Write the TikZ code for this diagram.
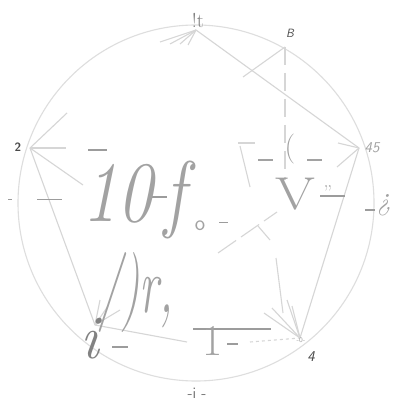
\documentclass[tikz,border=0pt]{standalone}
\usetikzlibrary{arrows.meta}
\definecolor{lin}{HTML}{D6D6D6}
\definecolor{txt}{HTML}{A2A2A2}
\definecolor{lab}{HTML}{4A4A4A}
\definecolor{dsh}{HTML}{9C9C9C}
\tikzset{
  ln/.style={draw=lin, line width=1.1pt},
  dk/.style={draw=dsh, line width=2pt},
  big/.style={text=txt, inner sep=0pt},
  lbl/.style={text=lab, inner sep=0pt, font=\sffamily},
}
\begin{document}
\begin{tikzpicture}[x=1pt,y=-1pt]
\useasboundingbox (0,0) rectangle (395,411);
\fill[white] (0,0) rectangle (395,411);
% vertices
\coordinate (vt) at (196,30);
\coordinate (vb) at (285,47);
\coordinate (v45) at (359,148);
\coordinate (v4) at (300,338);
\coordinate (vi) at (95,325);
\coordinate (v2) at (30,148);
\coordinate (c) at (196,203);
% circle
\draw[ln, draw=lin!80] (c) circle (178);
% edges
\draw[ln] (vt) -- (v45);
\draw[ln] (vb) -- (243,77);
\draw[ln, dashed, dash pattern=on 18pt off 8pt] (vb) -- (285,180);
\draw[ln] (v45) -- (v4);
\draw[ln] (v45) -- (337,167);
\draw[ln] (v45) -- (338,143);
\draw[ln] (v2) -- (vi);
\draw[ln] (v2) -- (83,185);
\draw[ln] (v2) -- (66,148);
\draw[ln] (v2) -- (67,113);
\draw[ln] (vi) -- (187,342);
\draw[ln] (276,258) -- (283,313);
\draw[ln, dashed, dash pattern=on 22pt off 6pt] (218,253) -- (277,212);
\draw[ln] (258,226) -- (270,240);
\draw[ln] (238,143) -- (255,143);
\draw[ln] (240,146) -- (250,187);
\draw[ln, dashed] (250,342) -- (v4);
% arrow fans
\foreach \a in {(160,42),(170,44),(180,44),(188,45)} \draw[ln] (vt) -- \a;
\foreach \a in {(264,313),(272,308),(287,300),(292,306)} \draw[ln] (v4) -- \a;
\foreach \a in {(100,300),(108,306),(120,310)} \draw[ln] (vi) -- \a;
% dark dashes
\draw[dk] (88,150) -- (107,150);
\draw[dk] (152,197) -- (167,197);
\draw[dk] (320,196) -- (345,196);
\draw[dk] (193,329) -- (271,329);
\draw[dk] (112,347) -- (128,347);
\draw[dk] (227,344) -- (238,344);
\draw[dk, line width=1pt] (37,200) -- (62,200);
\draw[dk, line width=1pt] (8,200) -- (12,200);
\draw[dk, line width=1pt] (219,222) -- (228,222);
\draw[dk, line width=1pt] (365,210) -- (375,210);
% big texts
\node[big, anchor=base west] (t10) at (82,222) {\fontsize{86}{88}\selectfont\itshape\scalebox{0.82}[1]{10\hspace{14pt}f}};
\node[big, anchor=base] (to) at (200,230) {\fontsize{22}{24}\selectfont\sffamily o};
\node[big, anchor=base] (tv) at (295,210) {\fontsize{46}{48}\selectfont\scalebox{1.25}[1]{V}};
\node[big, anchor=base] (tq) at (328,200) {\fontsize{20}{22}\selectfont ''};
\node[big, anchor=base] (tinv) at (384,210) {\fontsize{30}{32}\selectfont\itshape ?`};
\node[big, anchor=base west] (tr) at (98,312) {\fontsize{80}{82}\selectfont\itshape\scalebox{0.58}[1]{/)r,}};
\node[big, anchor=base, text=txt!80!black] (tii) at (90,358) {\fontsize{62}{64}\selectfont\itshape i};
\node[big, anchor=base] (t1) at (213,355) {\fontsize{44}{46}\selectfont 1};
\node[big, anchor=base] (tparen) at (290,157) {\fontsize{30}{32}\selectfont (};
\draw[ln, draw=txt] (258,160) -- (273,160);
\draw[ln, draw=txt] (307,160) -- (322,160);
% labels
\node[lbl, font=\rmfamily\fontsize{20}{22}\selectfont, text=lab!70] (lt) at (198,20) {!t};
\node[lbl, font=\sffamily\itshape\fontsize{12}{14}\selectfont] (lb) at (290,33) {B};
\node[lbl, font=\sffamily\bfseries\fontsize{12}{14}\selectfont] (l2) at (18,147) {2};
\node[lbl, font=\sffamily\itshape\fontsize{15}{17}\selectfont, text=txt] (l45) at (372,148) {45};
\node[lbl, font=\sffamily\itshape\fontsize{15}{17}\selectfont] (l4) at (311,357) {4};
\node[lbl, font=\sffamily\fontsize{7}{8}\selectfont, text=txt] (l0) at (301,340) {-0-};
\node[lbl, font=\sffamily\fontsize{16}{18}\selectfont, text=txt!70!black] (lbot) at (197,393) {-i -};
\end{tikzpicture}
\end{document}
